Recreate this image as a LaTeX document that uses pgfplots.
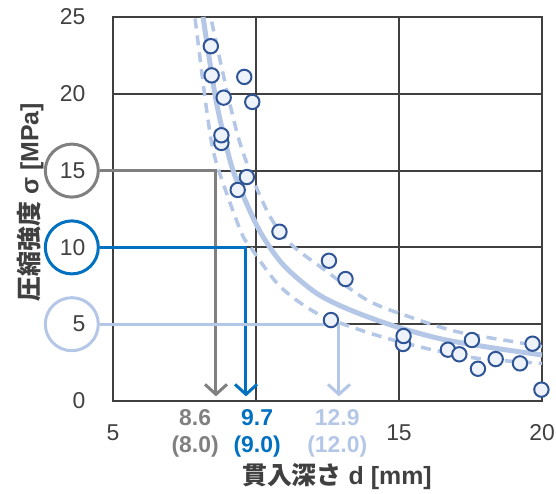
\documentclass[border=0pt]{standalone}
\usepackage{fontspec}
\setmainfont{Liberation Sans}
\newfontfamily\jp{Noto Sans CJK JP}
\usepackage{pgfplots}
\pgfplotsset{compat=1.18}
\usetikzlibrary{arrows.meta}

\definecolor{gridc}{HTML}{404040}
\definecolor{textc}{HTML}{404040}
\definecolor{ptedge}{HTML}{2F5597}
\definecolor{ptfill}{HTML}{EEF2FA}
\definecolor{curvec}{HTML}{B4C7E7}
\definecolor{annblue}{HTML}{0070C0}
\definecolor{anngray}{HTML}{808080}
\definecolor{annlight}{HTML}{B4C7E7}

\begin{document}
\begin{tikzpicture}
\useasboundingbox (0,0) rectangle (556bp,494bp);
\begin{axis}[
    at={(113bp,93bp)},
    scale only axis,
    width=429bp, height=384bp,
    xmin=5, xmax=20, ymin=0, ymax=25,
    xtick={5,10,15,20}, xticklabels={5,,15,20},
    ytick={0,5,10,15,20,25},
    grid=major,
    major grid style={gridc, line width=2bp},
    axis line style={gridc, line width=2.5bp},
    tick style={draw=none},
    tick label style={font=\fontsize{23}{27}\selectfont, text=textc},
    /pgf/number format/assume math mode=true,
    xticklabel style={yshift=-20bp},
    yticklabel style={xshift=-24bp},
    clip=false,
    xlabel={{\jp\bfseries 貫入深さ} \textbf{d [mm]}},
    ylabel={{\jp\bfseries 圧縮強度} \textbf{σ [MPa]}},
    xlabel style={at={(rel axis cs:0.522,-0.198)}, anchor=center, font=\fontsize{25}{29}\selectfont, text=textc},
    ylabel style={at={(rel axis cs:-0.193,0.518)}, anchor=center, font=\fontsize{25}{29}\selectfont, text=textc},
]

% read-off lines
\node[circle, draw=anngray, line width=3bp, minimum size=53bp, inner sep=0pt] (c15) at (axis cs:3.56,15) {};
\node[circle, draw=annblue, line width=3bp, minimum size=53bp, inner sep=0pt] (c10) at (axis cs:3.56,10) {};
\node[circle, draw=annlight, line width=3bp, minimum size=53bp, inner sep=0pt] (c5) at (axis cs:3.56,5) {};

\draw[anngray, line width=3bp, -{Straight Barb[length=10bp,width=22bp]}]
    (c15.east) -- (axis cs:8.6,15) -- (axis cs:8.6,0.3);
\draw[annblue, line width=3bp, -{Straight Barb[length=10bp,width=22bp]}]
    (c10.east) -- (axis cs:9.65,10) -- (axis cs:9.65,0.3);
\draw[annlight, line width=3bp, -{Straight Barb[length=10bp,width=22bp]}]
    (c5.east) -- (axis cs:12.9,5) -- (axis cs:12.9,0.3);

\node[anngray, align=center, font=\fontsize{23}{27}\selectfont\bfseries] at (axis cs:7.87,-2.1) {8.6\\(8.0)};
\node[annblue, align=center, font=\fontsize{23}{27}\selectfont\bfseries] at (axis cs:10.04,-2.1) {9.7\\(9.0)};
\node[annlight, align=center, font=\fontsize{23}{27}\selectfont\bfseries] at (axis cs:12.84,-2.1) {12.9\\(12.0)};

% fitted curve and bands
\addplot[smooth, curvec, line width=3.5bp, dash pattern=on 10bp off 7bp] coordinates {
    (8.45,24.7) (9.39,17.1) (10.38,12.4) (11.2,10.26) (12.25,8.74) (13.88,6.58)
    (15.35,5.49) (17.03,4.51) (19.01,3.86) (20,3.54)
};
\addplot[smooth, curvec, line width=3.5bp, dash pattern=on 10bp off 7bp] coordinates {
    (7.87,24.9) (8.3,18.6) (8.6,15.6) (9.45,11.13) (9.85,9.9) (10.85,7.44)
    (12.13,5.71) (13.65,4.62) (14.8,3.97) (16.2,3.32) (17.73,2.78) (20,2.45)
};
\addplot[smooth, curvec, line width=5bp] coordinates {
    (8.15,25) (8.6,19.6) (9.1,15.6) (9.5,13.6) (10.15,11.0) (10.96,8.85)
    (12.13,7.0) (13.3,5.92) (14.8,4.9) (16.45,4.05) (18.2,3.48) (20,3.0)
};

% measurements
\addplot[only marks, mark=*, mark size=7.2bp, mark options={draw=ptedge, fill=ptfill, line width=2bp}] coordinates {
    (8.42,23.1) (8.45,21.2) (9.59,21.1) (8.87,19.75) (9.87,19.47)
    (8.79,16.8) (8.79,17.3) (9.68,14.58) (9.36,13.74) (10.82,11.02)
    (12.55,9.13) (13.13,7.94) (12.62,5.27) (15.14,3.71) (15.16,4.23)
    (16.71,3.34) (17.11,3.04) (17.55,3.97) (17.76,2.10) (18.38,2.73)
    (19.23,2.45) (19.67,3.73) (19.98,0.74)
};
\end{axis}
\end{tikzpicture}
\end{document}
